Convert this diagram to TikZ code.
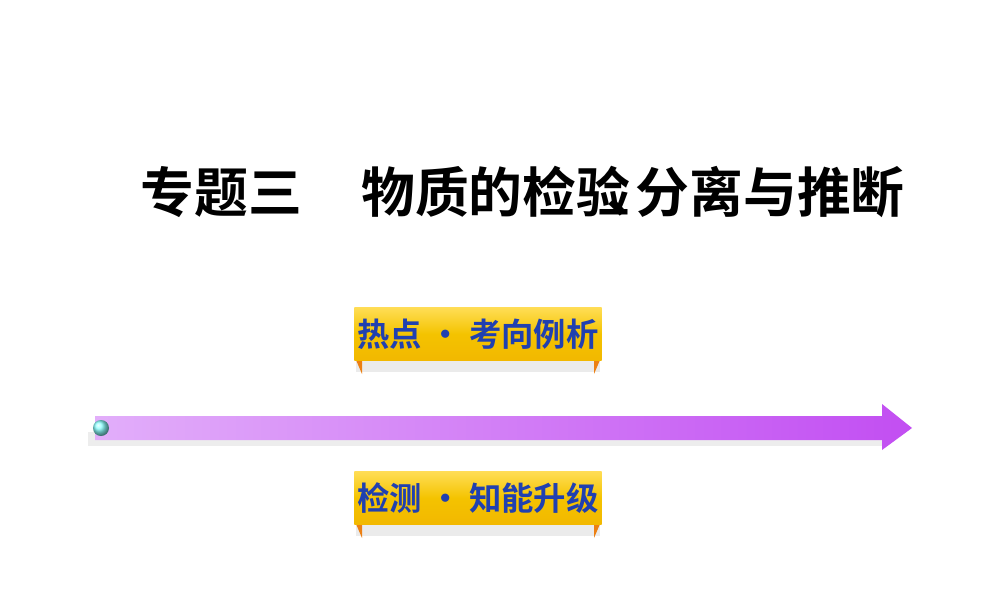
\documentclass[tikz,border=0pt]{standalone}
\usepackage{fontspec}
\newfontfamily\cjk{Noto Sans CJK SC Bold}
\usetikzlibrary{shadings}
\definecolor{gold}{HTML}{F2B800}
\definecolor{goldl}{HTML}{FFDD55}
\definecolor{tblue}{HTML}{2040B0}
\definecolor{arl}{HTML}{E2AEFA}
\definecolor{arr}{HTML}{C24EF2}
\tikzset{banner/.style={rectangle,minimum width=2.47cm,minimum height=0.53cm,top color=goldl,bottom color=gold,middle color=gold!85!yellow,draw=none,inner sep=0pt},
btext/.style={font=\cjk\fontsize{9.2pt}{10pt}\selectfont,text=tblue}}
\begin{document}
\begin{tikzpicture}[x=0.01cm,y=-0.01cm]
\useasboundingbox[fill=white] (0,0) rectangle (1000,600);
\node[font=\cjk\fontsize{15.3pt}{16pt}\selectfont,anchor=west,inner sep=0pt] (title) at (140,192) {专题三\hspace{1.1em}物质的检验\hspace{-0.45em}、\hspace{-0.45em}分离与推断};
% arrow shadow
\fill[black!7] (88,432) rectangle (882,446);
% arrow
\shade[left color=arl, right color=arr] (95,416) -- (882,416) -- (882,404) -- (912,428) -- (882,450) -- (882,440) -- (95,440) -- cycle;
\shade[ball color=cyan!45!white] (101,428) circle (8);
% banners
\foreach \n/\y/\t in {b1/334/热点\ ·\ 考向例析, b2/498/检测\ ·\ 知能升级}{
  \fill[black!8] (356,\y+26) rectangle (600,\y+38);
  \fill[orange!70!brown] (356,\y+26) -- (362,\y+26) -- (362,\y+40) -- cycle;
  \fill[orange!70!brown] (600,\y+26) -- (594,\y+26) -- (594,\y+40) -- cycle;
  \node[banner] (\n) at (478,\y) {};
  \node[btext] at (\n) {\t};
}
\end{tikzpicture}
\end{document}
